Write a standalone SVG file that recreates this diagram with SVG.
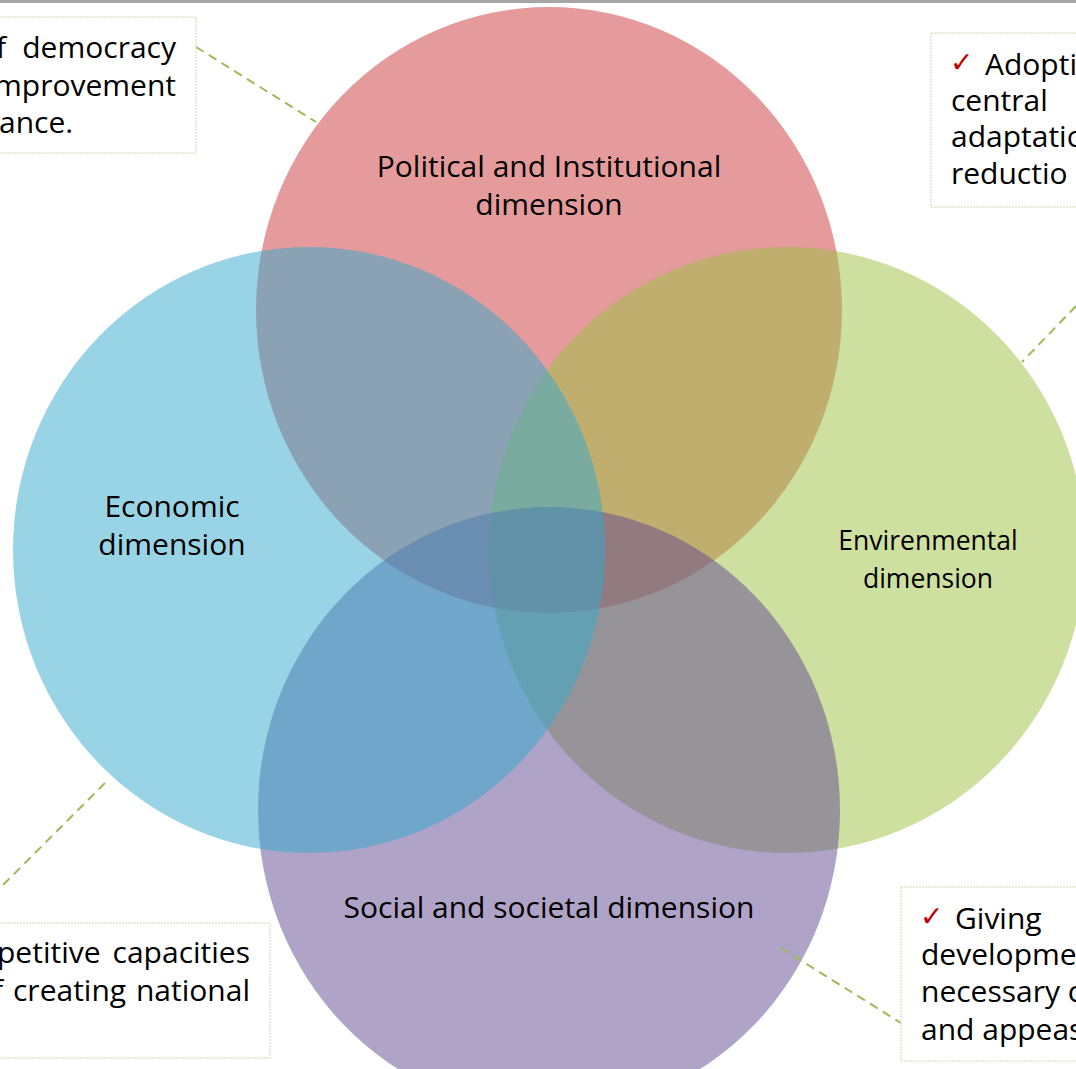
<svg xmlns="http://www.w3.org/2000/svg" width="1076" height="1069" viewBox="0 0 1076 1069">
<style>
.lbl{font-family:"Open Sans","Noto Sans",sans-serif;font-size:30px;fill:#000}
.sm{font-size:26.5px}
.box{fill:#fff;stroke:#c9dca6;stroke-width:1;stroke-dasharray:2 1}
.con{stroke:#9bbb59;stroke-width:2;stroke-dasharray:9 6;fill:none}
.chk{font-family:"DejaVu Sans",sans-serif;font-size:28px;font-weight:bold;fill:#c00000}
</style>
<rect x="0" y="0" width="1076" height="3" fill="#a6a6a6"/>
<g id="political"><ellipse cx="549" cy="310" rx="293" ry="303" fill="#cb373a" fill-opacity="0.5"/></g>
<g id="environmental"><ellipse cx="787" cy="550" rx="298" ry="303" fill="#9bc141" fill-opacity="0.5"/></g>
<g id="social"><ellipse cx="549" cy="810" rx="291" ry="303" fill="#614791" fill-opacity="0.5"/></g>
<g id="economic"><ellipse cx="309" cy="550" rx="296" ry="303" fill="#31a9cd" fill-opacity="0.5"/></g>
<g id="labels">
<text class="lbl" text-anchor="middle" x="549" y="177">Political and Institutional</text>
<text class="lbl" text-anchor="middle" x="549" y="215">dimension</text>
<text class="lbl" text-anchor="middle" x="172" y="517">Economic</text>
<text class="lbl" text-anchor="middle" x="172" y="555">dimension</text>
<text class="lbl sm" text-anchor="middle" x="928" y="550">Envirenmental</text>
<text class="lbl sm" text-anchor="middle" x="928" y="588">dimension</text>
<text class="lbl" text-anchor="middle" x="549" y="918">Social and societal dimension</text>
</g>
<g id="connectors">
<line class="con" x1="196" y1="47" x2="316" y2="122"/>
<line class="con" x1="1076" y1="306" x2="1022" y2="362"/>
<line class="con" x1="105" y1="783" x2="0" y2="888"/>
<line class="con" x1="781" y1="948" x2="901" y2="1023"/>
</g>
<g id="note-political">
<rect class="box" x="-10" y="17" width="206" height="136"/>
<text class="lbl" x="-4" y="58">f</text>
<text class="lbl" text-anchor="end" x="176" y="58">democracy</text>
<text class="lbl" text-anchor="end" x="176" y="96">mprovement</text>
<text class="lbl" x="-1" y="133">ance.</text>
</g>
<g id="note-environmental">
<rect class="box" x="931" y="33" width="160" height="174"/>
<text class="chk" x="950" y="72">✓</text>
<text class="lbl" x="985" y="75">Adopti</text>
<text class="lbl" x="951" y="111">central</text>
<text class="lbl" x="951" y="147">adaptatio</text>
<text class="lbl" x="951" y="184">reductio</text>
</g>
<g id="note-economic">
<rect class="box" x="-10" y="923" width="280" height="135"/>
<text class="lbl" x="-3" y="963">petitive</text>
<text class="lbl" text-anchor="end" x="250" y="963">capacities</text>
<text class="lbl" text-anchor="end" x="3" y="1001">f</text>
<text class="lbl" x="13" y="1001">creating</text>
<text class="lbl" text-anchor="end" x="250" y="1001">national</text>
</g>
<g id="note-social">
<rect class="box" x="901" y="887" width="190" height="174"/>
<text class="chk" x="920" y="926">✓</text>
<text class="lbl" x="955" y="929">Giving</text>
<text class="lbl" x="921" y="965">developme</text>
<text class="lbl" x="921" y="1002">necessary c</text>
<text class="lbl" x="921" y="1040">and appeas</text>
</g>
</svg>
